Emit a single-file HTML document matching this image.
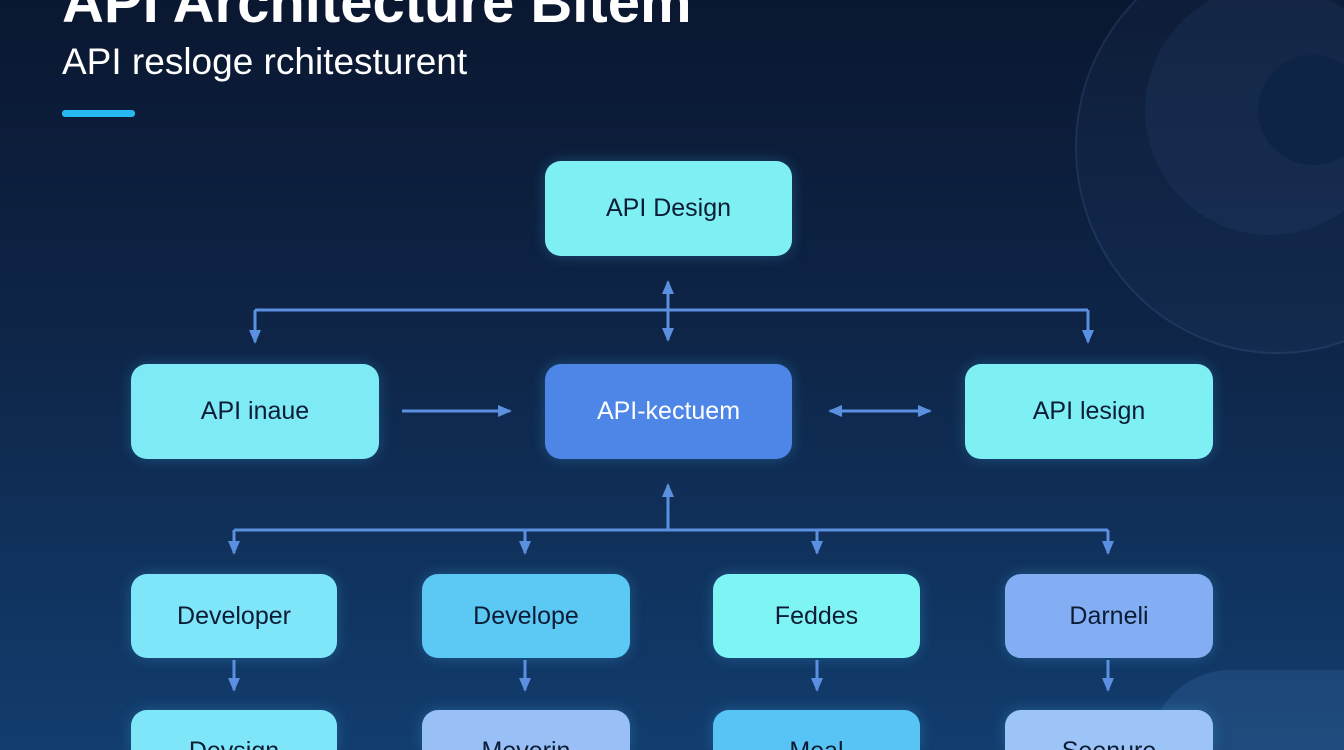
<!DOCTYPE html>
<html style="width:1344px;height:750px;overflow:hidden"><head><meta charset="utf-8"><style>
body{margin:0;width:1344px;height:750px;overflow:hidden;font-family:"Liberation Sans",sans-serif;
background:linear-gradient(180deg,#0a1730 0%,#0e2548 45%,#123d6e 100%);position:relative}
.b{position:absolute;border-radius:16px;display:flex;align-items:center;justify-content:center;font-size:25px;color:#0c1c34;box-shadow:0 0 14px rgba(80,200,255,.25)}
.c{height:40px;border-radius:16px 16px 0 0;align-items:flex-start;padding-top:27px;box-sizing:border-box;overflow:hidden}
.t{position:absolute;color:#fff;white-space:nowrap}
</style></head><body>
<div style="position:absolute;left:1075px;top:-60px;width:400px;height:410px;border-radius:50%;border:2px solid rgba(120,160,210,.12);background:rgba(60,90,140,.10)"></div>
<div style="position:absolute;left:1145px;top:-15px;width:250px;height:250px;border-radius:50%;background:rgba(60,90,140,.15)"></div>
<div style="position:absolute;left:1258px;top:55px;width:110px;height:110px;border-radius:50%;background:#0e2446"></div>
<div style="position:absolute;left:1150px;top:670px;width:194px;height:80px;border-radius:150px 0 0 0;background:rgba(80,130,190,.2)"></div>
<div class="t" style="left:62px;top:-31px;font-size:58px;font-weight:bold">API Architecture Bitem</div>
<div class="t" style="left:62px;top:41px;font-size:37px">API resloge rchitesturent</div>
<div style="position:absolute;left:62px;top:110px;width:73px;height:7px;border-radius:3px;background:#26b8f0"></div>
<svg style="position:absolute;left:0;top:0" width="1344" height="750">
<defs><marker id="m" markerWidth="16" markerHeight="16" refX="12" refY="8" orient="auto-start-reverse" markerUnits="userSpaceOnUse"><path d="M0,2L14,8L0,14z" fill="#5b8fe0"/></marker></defs>
<g stroke="#5b8fe0" stroke-width="3" fill="none">
<path d="M255 310H1088"/>
<path d="M668 282V340" marker-start="url(#m)" marker-end="url(#m)"/>
<path d="M255 310V342" marker-end="url(#m)"/><path d="M1088 310V342" marker-end="url(#m)"/>
<path d="M402 411H510" marker-end="url(#m)"/>
<path d="M830 411H930" marker-start="url(#m)" marker-end="url(#m)"/>
<path d="M668 530V485" marker-end="url(#m)"/>
<path d="M234 530H1108"/>
<path d="M234 530V553" marker-end="url(#m)"/><path d="M525 530V553" marker-end="url(#m)"/>
<path d="M817 530V553" marker-end="url(#m)"/><path d="M1108 530V553" marker-end="url(#m)"/>
<path d="M234 660V690" marker-end="url(#m)"/><path d="M525 660V690" marker-end="url(#m)"/>
<path d="M817 660V690" marker-end="url(#m)"/><path d="M1108 660V690" marker-end="url(#m)"/>
</g></svg>
<div class="b" style="left:545px;top:161px;width:247px;height:95px;background:#7ef0f4">API Design</div>
<div class="b" style="left:131px;top:364px;width:248px;height:95px;background:#7eeaf6">API inaue</div>
<div class="b" style="left:545px;top:364px;width:247px;height:95px;background:#4d86e6;color:#fff">API-kectuem</div>
<div class="b" style="left:965px;top:364px;width:248px;height:95px;background:#7ef0f4">API lesign</div>
<div class="b" style="left:131px;top:574px;width:206px;height:84px;background:#7ee6f8">Developer</div>
<div class="b" style="left:422px;top:574px;width:208px;height:84px;background:#5cc8f4">Develope</div>
<div class="b" style="left:713px;top:574px;width:207px;height:84px;background:#7ef4f4">Feddes</div>
<div class="b" style="left:1005px;top:574px;width:208px;height:84px;background:#84aef4">Darneli</div>
<div class="b c" style="left:131px;top:710px;width:206px;background:#7ee6f8">Devsign</div>
<div class="b c" style="left:422px;top:710px;width:208px;background:#98bff6">Meverin</div>
<div class="b c" style="left:713px;top:710px;width:207px;background:#58c4f6">Meal</div>
<div class="b c" style="left:1005px;top:710px;width:208px;background:#9cc4f6">Seenure</div>
</body></html>
